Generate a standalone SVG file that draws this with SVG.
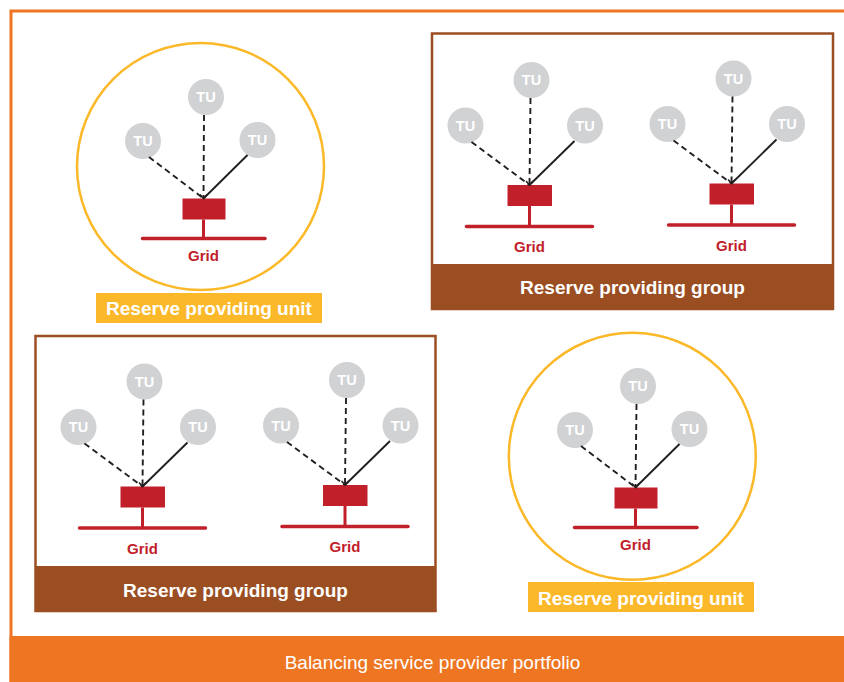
<svg xmlns="http://www.w3.org/2000/svg" width="844" height="682" viewBox="0 0 844 682">
<style>
.frame{fill:#fff;stroke:#EE7623;stroke-width:3}
.bar{fill:#EE7623}
.ring{fill:none;stroke:#FBB829;stroke-width:2.5}
.lab{fill:#FBB829}
.gbox{fill:#fff;stroke:#9A4E22;stroke-width:2.5}
.band{fill:#9A4E22}
.tu{fill:#D1D2D4}
.tut{font-family:"Liberation Sans",Arial,sans-serif;font-weight:bold;font-size:14.5px;fill:#fff;text-anchor:middle}
.load{fill:#C1202A}
.gl{stroke:#C1202A;stroke-width:3.5;stroke-linecap:round;fill:none}
.st{stroke:#C1202A;stroke-width:3;fill:none}
.gt{font-family:"Liberation Sans",Arial,sans-serif;font-weight:bold;font-size:15px;fill:#C1202A;text-anchor:middle}
.wt{font-family:"Liberation Sans",Arial,sans-serif;font-weight:bold;font-size:19px;fill:#fff;text-anchor:middle}
.bt{font-family:"Liberation Sans",Arial,sans-serif;font-size:19px;fill:#fff;text-anchor:middle}
.d{stroke:#231F20;stroke-width:1.9;stroke-dasharray:6 4;fill:none}
.s{stroke:#231F20;stroke-width:1.9;fill:none}
</style>
<defs>
<marker id="ah" markerUnits="userSpaceOnUse" markerWidth="10" markerHeight="10" refX="0" refY="0" viewBox="-6 -5 8 10" orient="auto">
<path d="M-4,-3.5 L0,0 L-4,3.5" fill="none" stroke="#231F20" stroke-width="1.5"/>
</marker>
</defs>

<g id="portfolio">
<rect class="frame" x="11" y="11" width="850" height="680"/>
<rect class="bar" x="9.5" y="636" width="836" height="48"/>
<text class="bt" x="432.5" y="669">Balancing service provider portfolio</text>
</g>

<g id="rpu1">
<circle class="ring" cx="200.5" cy="166.5" r="123.5"/>
<rect class="lab" x="96" y="293" width="226" height="30"/>
<text class="wt" x="209" y="314.5">Reserve providing unit</text>
</g>
<g id="rpg1">
<rect class="gbox" x="432" y="33.5" width="401" height="275.5"/>
<rect class="band" x="432" y="264" width="401" height="45"/>
<text class="wt" x="632.5" y="294">Reserve providing group</text>
</g>
<g id="rpg2">
<rect class="gbox" x="35.5" y="336" width="400" height="275"/>
<rect class="band" x="35.5" y="566" width="400" height="45"/>
<text class="wt" x="235.5" y="596.5">Reserve providing group</text>
</g>
<g id="rpu2">
<circle class="ring" cx="632.3" cy="456.3" r="123.5"/>
<rect class="lab" x="528" y="582" width="226" height="30"/>
<text class="wt" x="641" y="604.5">Reserve providing unit</text>
</g>

<!-- Unit 1 -->
<g id="u1-tu-top"><circle class="tu" cx="206" cy="97" r="18"/><text class="tut" x="206" y="102">TU</text></g>
<g id="u1-tu-left"><circle class="tu" cx="143" cy="141" r="18"/><text class="tut" x="143" y="146">TU</text></g>
<g id="u1-tu-right"><circle class="tu" cx="257.5" cy="140" r="18"/><text class="tut" x="257.5" y="145">TU</text></g>
<g id="u1-grid"><rect class="load" x="182.5" y="198.5" width="43" height="21"/><path class="st" d="M203.5,219.5V238.5"/><path class="gl" d="M142.5,238.5H265"/><text class="gt" x="203.5" y="260.5">Grid</text></g>

<!-- Group 1 unit A -->
<g id="g1a-tu-top"><circle class="tu" cx="531.5" cy="80" r="18"/><text class="tut" x="531.5" y="85">TU</text></g>
<g id="g1a-tu-left"><circle class="tu" cx="465.5" cy="125.5" r="18"/><text class="tut" x="465.5" y="130.5">TU</text></g>
<g id="g1a-tu-right"><circle class="tu" cx="585" cy="125.5" r="18"/><text class="tut" x="585" y="130.5">TU</text></g>
<g id="g1a-grid"><rect class="load" x="507.5" y="185" width="44.5" height="21"/><path class="st" d="M529.5,206V226.5"/><path class="gl" d="M466.5,226.5H592.5"/><text class="gt" x="529.5" y="252">Grid</text></g>

<!-- Group 1 unit B -->
<g id="g1b-tu-top"><circle class="tu" cx="733.5" cy="78.5" r="18"/><text class="tut" x="733.5" y="83.5">TU</text></g>
<g id="g1b-tu-left"><circle class="tu" cx="667.5" cy="124" r="18"/><text class="tut" x="667.5" y="129">TU</text></g>
<g id="g1b-tu-right"><circle class="tu" cx="787" cy="124" r="18"/><text class="tut" x="787" y="129">TU</text></g>
<g id="g1b-grid"><rect class="load" x="709.5" y="183.5" width="44.5" height="21"/><path class="st" d="M731.5,204.5V225"/><path class="gl" d="M668.5,225H794.5"/><text class="gt" x="731.5" y="250.5">Grid</text></g>

<!-- Group 2 unit A -->
<g id="g2a-tu-top"><circle class="tu" cx="144.5" cy="381.5" r="18"/><text class="tut" x="144.5" y="386.5">TU</text></g>
<g id="g2a-tu-left"><circle class="tu" cx="78.5" cy="427" r="18"/><text class="tut" x="78.5" y="432">TU</text></g>
<g id="g2a-tu-right"><circle class="tu" cx="198" cy="427" r="18"/><text class="tut" x="198" y="432">TU</text></g>
<g id="g2a-grid"><rect class="load" x="120.5" y="486.5" width="44.5" height="21"/><path class="st" d="M142.5,507.5V528"/><path class="gl" d="M79.5,528H205.5"/><text class="gt" x="142.5" y="553.5">Grid</text></g>

<!-- Group 2 unit B -->
<g id="g2b-tu-top"><circle class="tu" cx="347" cy="380" r="18"/><text class="tut" x="347" y="385">TU</text></g>
<g id="g2b-tu-left"><circle class="tu" cx="281" cy="425.5" r="18"/><text class="tut" x="281" y="430.5">TU</text></g>
<g id="g2b-tu-right"><circle class="tu" cx="400.5" cy="425.5" r="18"/><text class="tut" x="400.5" y="430.5">TU</text></g>
<g id="g2b-grid"><rect class="load" x="323" y="485" width="44.5" height="21"/><path class="st" d="M345,506V526.5"/><path class="gl" d="M282,526.5H408"/><text class="gt" x="345" y="552">Grid</text></g>

<!-- Unit 2 -->
<g id="u2-tu-top"><circle class="tu" cx="638" cy="386" r="18"/><text class="tut" x="638" y="391">TU</text></g>
<g id="u2-tu-left"><circle class="tu" cx="575" cy="430" r="18"/><text class="tut" x="575" y="435">TU</text></g>
<g id="u2-tu-right"><circle class="tu" cx="689.5" cy="429" r="18"/><text class="tut" x="689.5" y="434">TU</text></g>
<g id="u2-grid"><rect class="load" x="614.5" y="487.5" width="43" height="21"/><path class="st" d="M635.5,508.5V527.5"/><path class="gl" d="M574.5,527.5H697"/><text class="gt" x="635.5" y="549.5">Grid</text></g>

<g id="connectors">
<path class="d" d="M149,157L203.5,198.5"/>
<path class="s" d="M247.5,155L203.5,198.5"/>
<path class="d" d="M204,115L203.5,198.5" marker-end="url(#ah)"/>

<path class="d" d="M471.5,142L529.5,185"/>
<path class="s" d="M574.5,141L529.5,185"/>
<path class="d" d="M530.5,98L529.5,185" marker-end="url(#ah)"/>

<path class="d" d="M673.5,140.5L731.5,183.5"/>
<path class="s" d="M776.5,139.5L731.5,183.5"/>
<path class="d" d="M732.5,96.5L731.5,183.5" marker-end="url(#ah)"/>

<path class="d" d="M84.5,443.5L142.5,486.5"/>
<path class="s" d="M187.5,442.5L142.5,486.5"/>
<path class="d" d="M143.5,399.5L142.5,486.5" marker-end="url(#ah)"/>

<path class="d" d="M287,442L345,485"/>
<path class="s" d="M390,441L345,485"/>
<path class="d" d="M346,398L345,485" marker-end="url(#ah)"/>

<path class="d" d="M581,446L635.5,487.5"/>
<path class="s" d="M679.5,444L635.5,487.5"/>
<path class="d" d="M636.5,404L635.5,487.5" marker-end="url(#ah)"/>
</g>
</svg>
